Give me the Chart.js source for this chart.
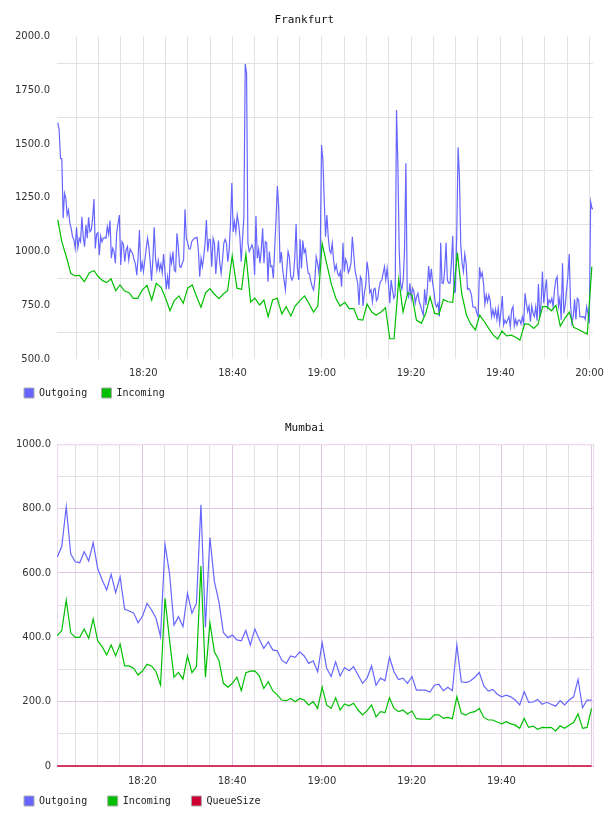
<!DOCTYPE html>
<html>
<head>
<meta charset="utf-8">
<script src="https://cdn.jsdelivr.net/npm/chart.js@4.4.1/dist/chart.umd.min.js"></script>
<style>
    body { margin: 0; background: #ffffff; }
    .chart-box { position: relative; width: 608px; height: 408px; }
</style>
</head>
<body>
<div class="chart-box"><canvas id="frankfurtChart"></canvas></div>
<div class="chart-box"><canvas id="mumbaiChart"></canvas></div>
<script>
// minutes after 18:00
const frankfurtRange = [0.66, 120.77];
const mumbaiRange = [0.99, 120.6];

// Frankfurt outgoing: one sample every 18 s starting 18:00:50
const frankfurtOutStart = 0.84;
const frankfurtOutStep = 0.3;
const frankfurtOutgoing = [
    1599, 1565, 1433, 1432, 1155, 1271, 1248, 1170, 1193, 1131,
    1108, 1069, 1057, 1015, 1113, 1018, 1062, 1046, 1162, 1069,
    1023, 1124, 1062, 1159, 1092, 1100, 1155, 1244, 1015, 1082,
    1088, 983, 1072, 1046, 1062, 1066, 1062, 1116, 1080, 1144,
    969, 1015, 1000, 946, 1092, 1130, 1170, 938, 1046, 1035,
    953, 1007, 1023, 961, 1011, 1000, 989, 961, 942, 890,
    976, 1100, 907, 950, 907, 960, 1011, 1062, 1023, 953,
    865, 961, 1113, 969, 914, 958, 914, 942, 902, 989,
    911, 825, 883, 825, 980, 946, 1000, 914, 907, 1085,
    1023, 930, 927, 946, 964, 1197, 1062, 1040, 1012, 1012,
    1046, 1055, 1062, 1064, 1066, 1007, 883, 969, 930, 976,
    1039, 1147, 1000, 1057, 1054, 930, 1062, 1039, 896, 976,
    1051, 946, 899, 961, 1039, 1057, 1039, 953, 1007, 1131,
    1319, 1092, 1139, 1092,
    1170, 1131, 1069, 953, 1062, 1162, 1872, 1829, 1039, 1000,
    1015, 1031, 1011, 891, 1165, 969, 1011, 946, 1007, 1108,
    946, 1046, 1041, 860, 1000, 930, 933, 876, 1011, 1147,
    1305, 1209, 946, 998, 914, 868, 822, 914, 1000,
    974, 883, 868, 887, 969, 1128, 922, 868, 1057, 922,
    1051, 995, 1011, 953, 899, 896, 860, 837, 822,
    868, 976, 946, 902, 976, 1495, 1426, 1240, 1069,
    1170, 1069, 1007, 992, 1039, 961, 914, 938, 899,
    887, 907, 837, 1041, 907, 964, 946, 902, 918, 946,
    1069, 992, 914, 883, 853, 752, 883, 868, 747, 809,
    845, 953, 907, 809, 822, 767, 825, 829, 772, 783,
    834, 860, 868, 899, 930, 868, 922, 853, 760,
    868, 822, 783, 798, 1658, 1410, 1007, 853, 825, 868,
    1007, 1410, 809, 790, 853, 783, 830, 814, 760,
    790, 806, 767, 747, 725, 705, 825, 752, 822, 933,
    859, 920, 853, 814, 756, 744, 760, 698, 1041, 853,
    853, 914, 1041, 868, 853, 853, 946, 1074, 809, 814,
    1085, 1485, 1348, 1031, 946, 907, 989, 946, 825, 829,
    818, 798, 744, 741, 741, 713, 698, 927, 883, 902,
    853, 756, 798, 767, 798, 772, 698, 729, 698, 732,
    685, 736, 668, 721, 794, 659, 682, 667, 682, 698,
    651, 729, 744, 654, 685, 659, 682, 682, 664, 698,
    667, 806, 760, 721, 747, 674, 747, 713, 698, 744,
    679, 849, 698, 760, 907, 760, 822, 871, 744, 775,
    763, 783, 744, 822, 868, 883, 747, 783, 682, 946,
    713, 752, 822, 883, 989, 752, 668, 698, 778, 685,
    783, 775, 698, 698, 695, 698, 685, 744, 713, 667,
    1232, 1201, 1197, 1197,
];

const frankfurtInTimes = [
    0.84, 1.73, 2.85, 3.75, 4.71, 5.67, 6.79, 7.91, 8.96, 9.93,
    10.91, 11.81, 12.77, 13.82, 14.78, 15.75, 16.8, 17.76, 18.75, 19.78,
    20.83, 21.88, 22.91, 23.96, 25.01, 25.98, 26.94, 27.99, 28.95, 29.94,
    30.97, 31.95, 32.92, 33.97, 34.93, 35.89, 36.95, 37.91, 38.89, 39.92,
    40.98, 42.03, 42.99, 44.04, 45.01, 46.06, 47.02, 47.98, 48.97, 50.0,
    51.05, 52.01, 53.07, 54.03, 55.08, 56.13, 57.09, 58.15, 59.11, 60.07,
    61.06, 62.18, 63.14, 64.1, 65.15, 66.12, 67.17, 68.13, 69.18, 70.15,
    71.2, 72.16, 73.21, 74.27, 75.23, 76.19, 77.24, 78.2, 79.26, 80.22,
    81.2, 82.32, 83.29, 84.25, 85.3, 86.26, 87.25, 88.28, 89.33, 90.38,
    91.35, 92.4, 93.36, 94.41, 95.38, 96.43, 97.39, 98.44, 99.41, 100.37,
    101.42, 102.47, 103.44, 104.4, 105.45, 106.41, 107.47, 108.43, 109.48, 110.44,
    111.43, 112.46, 113.44, 114.47, 115.46, 116.42, 117.38, 119.49, 120.51,
];
const frankfurtIncoming = [
    1147, 1046, 969, 899, 887, 890, 860, 902, 911, 883,
    865, 856, 874, 818, 845, 818, 809, 783, 783, 822,
    843, 775, 853, 834, 783, 725, 772, 794, 760, 830,
    845, 790, 741, 809, 828, 803, 781, 803, 818, 980,
    830, 825, 989, 766, 784, 752, 775, 698, 775, 783,
    710, 744, 701, 747, 772, 794, 760, 719, 747, 1038,
    946, 845, 783, 747, 764, 735, 735, 685, 682, 756,
    719, 704, 718, 739, 595, 595, 871, 719, 809, 797,
    682, 667, 713, 790, 713, 709, 778, 767, 764, 995,
    806, 705, 664, 636, 705, 674, 643, 612, 594, 631,
    608, 612, 602, 589, 664, 662, 643, 662, 744, 744,
    725, 750, 654, 690, 719, 648, 639, 617, 930,
];

// Mumbai: one sample per minute starting 18:01
const mumbaiStart = 1.05;
const mumbaiStep = 1;
const mumbaiOutgoing = [
    650, 682, 806, 659, 635, 632, 666, 637, 694, 614,
    578, 547, 596, 539, 588, 488, 482, 476, 445, 466,
    506, 485, 459, 402, 689, 599, 438, 464, 433, 537,
    475, 506, 812, 431, 710, 573, 511, 415, 399, 407,
    392, 389, 421, 376, 426, 394, 366, 386, 361, 358,
    329, 319, 342, 338, 355, 342, 319, 327, 293, 383,
    304, 278, 324, 280, 306, 296, 309, 283, 257, 273,
    311, 251, 273, 265, 338, 293, 269, 273, 257, 278,
    236, 236, 236, 230, 251, 254, 234, 245, 234, 376,
    262, 259, 264, 276, 291, 249, 233, 238, 223, 215,
    220, 215, 205, 190, 231, 198, 199, 207, 192, 198,
    192, 186, 203, 190, 205, 215, 269, 181, 205, 205,
];
const mumbaiIncoming = [
    405, 421, 516, 414, 400, 400, 426, 397, 457, 389,
    371, 345, 376, 342, 379, 311, 311, 304, 283, 296,
    316, 311, 293, 252, 521, 392, 276, 291, 270, 342,
    290, 309, 622, 276, 445, 355, 329, 257, 245, 257,
    276, 234, 290, 295, 296, 280, 241, 262, 234, 221,
    205, 203, 210, 200, 210, 205, 190, 200, 179, 245,
    190, 179, 212, 174, 193, 187, 195, 174, 159, 172,
    190, 153, 169, 166, 212, 179, 169, 174, 162, 171,
    147, 146, 146, 145, 159, 159, 148, 151, 147, 215,
    164, 158, 166, 169, 179, 151, 143, 143, 137, 131,
    138, 131, 127, 117, 148, 120, 124, 114, 120, 119,
    120, 109, 125, 117, 127, 135, 162, 117, 120, 179,
];
const mumbaiQueue = [
    0, 0, 0, 0, 0, 0, 0, 0, 0, 0,
    0, 0, 0, 0, 0, 0, 0, 0, 0, 0,
    0, 0, 0, 0, 0, 0, 0, 0, 0, 0,
    0, 0, 0, 0, 0, 0, 0, 0, 0, 0,
    0, 0, 0, 0, 0, 0, 0, 0, 0, 0,
    0, 0, 0, 0, 0, 0, 0, 0, 0, 0,
    0, 0, 0, 0, 0, 0, 0, 0, 0, 0,
    0, 0, 0, 0, 0, 0, 0, 0, 0, 0,
    0, 0, 0, 0, 0, 0, 0, 0, 0, 0,
    0, 0, 0, 0, 0, 0, 0, 0, 0, 0,
    0, 0, 0, 0, 0, 0, 0, 0, 0, 0,
    0, 0, 0, 0, 0, 0, 0, 0, 0, 0,
];

const OUT_COLOR = "#6666ff";
const IN_COLOR = "#00bf00";
const QUEUE_COLOR = "#cc0033";

const GRID_GRAY = "rgb(226,226,226)";
const GRID_PINK = "rgb(222,198,222)";
const FRAME_PINK = "rgb(238,218,238)";

const MONO = "'DejaVu Sans Mono', monospace";
const SANS = "'DejaVu Sans', sans-serif";

function formatTime(minutes) {
    const hour = 18 + Math.floor(minutes / 60);
    const minute = minutes % 60;
    return `${hour}:${String(minute).padStart(2, "0")}`;
}

function regularSeries(start, step, values) {
    return values.map((value, i) => ({ x: start + i * step, y: value }));
}

function timedSeries(times, values) {
    return values.map((value, i) => ({ x: times[i], y: value }));
}

function lineDataset(label, color, data, order) {
    return {
        label: label,
        data: data,
        borderColor: color,
        backgroundColor: color,
        borderWidth: 1.2,
        pointRadius: 0,
        tension: 0,
        fill: false,
        order: order,
    };
}

// the old legend is a table: extra blank space after each name
function legendOptions(padding, gap) {
    return {
        display: true,
        position: "bottom",
        align: "start",
        labels: {
            boxWidth: 10,
            boxHeight: 10,
            padding: padding,
            color: "#222",
            font: { family: MONO, size: 10 },
            generateLabels: chart => chart.data.datasets.map((ds, i) => ({
                text: ds.label + gap,
                fillStyle: ds.borderColor,
                strokeStyle: "#aaaaaa",
                lineWidth: 1,
                hidden: false,
                datasetIndex: i,
                fontColor: "#222",
            })),
        },
    };
}

function titleOptions(text, bottomPad) {
    return {
        display: true,
        text: text,
        color: "#111",
        font: { family: MONO, size: 11, weight: "normal", lineHeight: 1.2 },
        padding: { top: 13.4, bottom: bottomPad },
    };
}

// Mumbai draws a thin frame round the plot
const frameBorder = {
    id: "frameBorder",
    beforeDatasetsDraw(chart) {
        const { ctx, chartArea } = chart;
        ctx.save();
        ctx.strokeStyle = FRAME_PINK;
        ctx.lineWidth = 1;
        ctx.beginPath();
        ctx.moveTo(chartArea.left + 0.5, chartArea.bottom);
        ctx.lineTo(chartArea.left + 0.5, chartArea.top + 0.5);
        ctx.lineTo(chartArea.right - 0.5, chartArea.top + 0.5);
        ctx.lineTo(chartArea.right - 0.5, chartArea.bottom);
        ctx.stroke();
        ctx.restore();
    },
};

Chart.defaults.animation = false;
Chart.defaults.devicePixelRatio = 1;

const frankfurtChart = new Chart(document.getElementById("frankfurtChart"), {
    type: "line",
    data: {
        datasets: [
            lineDataset("Outgoing", OUT_COLOR, regularSeries(frankfurtOutStart, frankfurtOutStep, frankfurtOutgoing), 2),
            lineDataset("Incoming", IN_COLOR, timedSeries(frankfurtInTimes, frankfurtIncoming), 1),
        ],
    },
    options: {
        responsive: true,
        maintainAspectRatio: false,
        events: [],
        layout: { padding: { left: 15.7, right: 15, top: 0, bottom: 0 } },
        plugins: {
            title: titleOptions("Frankfurt", 9.8),
            legend: legendOptions(8.3, " "),
            tooltip: { enabled: false },
        },
        scales: {
            x: {
                type: "linear",
                min: frankfurtRange[0],
                max: frankfurtRange[1],
                border: { display: false },
                grid: { color: GRID_GRAY, drawTicks: false },
                ticks: {
                    stepSize: 5,
                    includeBounds: false,
                    autoSkip: false,
                    maxRotation: 0,
                    padding: 8,
                    color: "#333",
                    font: { family: SANS, size: 10 },
                    callback: value => (value % 20 === 0 ? formatTime(value) : ""),
                },
                afterFit: scale => {
                    scale.height = 20.5;
                    scale.paddingLeft = 0;
                    scale.paddingRight = 0;
                },
            },
            y: {
                min: 500,
                max: 2000,
                border: { display: false },
                grid: {
                    drawTicks: false,
                    color: ctx => (ctx.tick && ctx.tick.value % 250 === 0 ? "rgba(0,0,0,0)" : GRID_GRAY),
                },
                ticks: {
                    stepSize: 125,
                    autoSkip: false,
                    padding: 7,
                    color: "#333",
                    font: { family: SANS, size: 10 },
                    callback: value => (value % 250 === 0 ? value.toFixed(1) : ""),
                },
                afterFit: scale => {
                    scale.width = 41.3;
                    scale.paddingTop = 0;
                    scale.paddingBottom = 0;
                },
            },
        },
    },
});

const mumbaiChart = new Chart(document.getElementById("mumbaiChart"), {
    type: "line",
    data: {
        datasets: [
            lineDataset("Outgoing", OUT_COLOR, regularSeries(mumbaiStart, mumbaiStep, mumbaiOutgoing), 3),
            lineDataset("Incoming", IN_COLOR, regularSeries(mumbaiStart, mumbaiStep, mumbaiIncoming), 2),
            Object.assign(
                lineDataset("QueueSize", QUEUE_COLOR, regularSeries(mumbaiStart, mumbaiStep, mumbaiQueue), 1),
                { borderWidth: 1.5, clip: { left: 0, right: 0, top: 0, bottom: 3 } }
            ),
        ],
    },
    plugins: [frameBorder],
    options: {
        responsive: true,
        maintainAspectRatio: false,
        events: [],
        layout: { padding: { left: 15.5, right: 14, top: 0, bottom: 0 } },
        plugins: {
            title: titleOptions("Mumbai", 9.7),
            legend: legendOptions(8.5, "  "),
            tooltip: { enabled: false },
        },
        scales: {
            x: {
                type: "linear",
                min: mumbaiRange[0],
                max: mumbaiRange[1],
                border: { display: false },
                grid: {
                    drawTicks: false,
                    color: ctx => (ctx.tick && ctx.tick.value % 20 === 0 ? GRID_PINK : GRID_GRAY),
                },
                ticks: {
                    stepSize: 5,
                    includeBounds: false,
                    autoSkip: false,
                    maxRotation: 0,
                    padding: 9,
                    color: "#333",
                    font: { family: SANS, size: 10 },
                    callback: value => (value % 20 === 0 && value < 120 ? formatTime(value) : ""),
                },
                afterFit: scale => {
                    scale.height = 21.5;
                    scale.paddingLeft = 0;
                    scale.paddingRight = 0;
                },
            },
            y: {
                min: 0,
                max: 1000,
                border: { display: false },
                grid: {
                    drawTicks: false,
                    color: ctx => {
                        if (!ctx.tick) return GRID_GRAY;
                        if (ctx.tick.value === 1000) return FRAME_PINK;
                        return ctx.tick.value % 200 === 0 ? GRID_PINK : GRID_GRAY;
                    },
                },
                ticks: {
                    stepSize: 100,
                    autoSkip: false,
                    padding: 6,
                    color: "#333",
                    font: { family: SANS, size: 10 },
                    callback: value => {
                        if (value % 200 !== 0) return "";
                        return value === 0 ? "0" : value.toFixed(1);
                    },
                },
                afterFit: scale => {
                    scale.width = 41.5;
                    scale.paddingTop = 0;
                    scale.paddingBottom = 0;
                },
            },
        },
    },
});
</script>
</body>
</html>
